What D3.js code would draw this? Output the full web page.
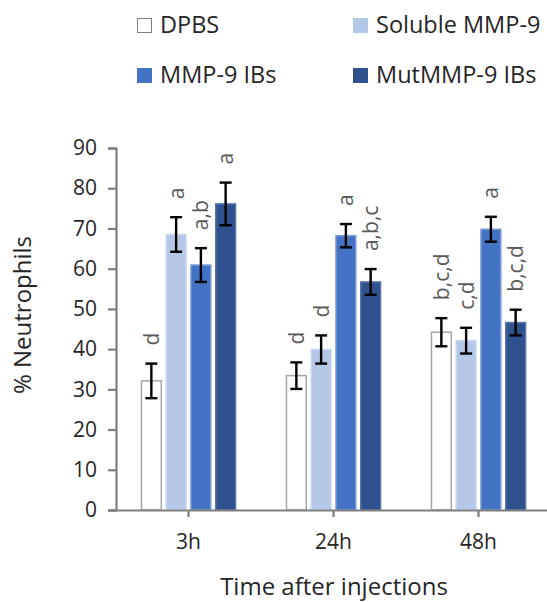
<!DOCTYPE html>
<html lang="en">
<head>
<meta charset="utf-8">
<title>% Neutrophils</title>
<script src="https://cdn.jsdelivr.net/npm/d3@7"></script>
<style>
  body { margin: 0; background: #fff; }
  text { font-family: "Open Sans", "Noto Sans", sans-serif; }
</style>
</head>
<body>
<div id="chart"></div>
<script>
// data
var times = ["3h", "24h", "48h"];
var groups = ["DPBS", "Soluble MMP-9", "MMP-9 IBs", "MutMMP-9 IBs"];
var colors = ["#ffffff", "#b4c7e7", "#4472c4", "#2f528f"];
var strokes = ["#a6a6a6", "#c9d7ef", "#7a9bd6", "#5873a8"];
// one row per time, one value per group
var means = [
  [32.1, 68.5, 60.9, 76.1],
  [33.4, 39.9, 68.2, 56.7],
  [44.2, 42.1, 69.8, 46.6]
];
var errs = [
  [4.3, 4.3, 4.2, 5.3],
  [3.3, 3.5, 2.9, 3.2],
  [3.5, 3.2, 3.1, 3.2]
];
var letters = [
  ["d", "a", "a,b", "a"],
  ["d", "d", "a", "a,b,c"],
  ["b,c,d", "c,d", "a", "b,c,d"]
];
var yTicks = [0, 10, 20, 30, 40, 50, 60, 70, 80, 90];

var w = 547, h = 602;
var svg = d3.select("#chart").append("svg")
  .attr("width", w).attr("height", h);

var x0 = d3.scaleBand().domain(times).range([116, 551]);
var x1 = d3.scaleBand().domain(groups).range([0, 104]).padding(0.2);
var y = d3.scaleLinear().domain([0, 90]).range([510, 148]);

var rows = [];
times.forEach(function(t, i) {
  groups.forEach(function(g, j) {
    rows.push({t: t, g: g, j: j, v: means[i][j], e: errs[i][j], lab: letters[i][j]});
  });
});

function bx(d) { return x0(d.t) + x0.bandwidth() / 2 - 52 + x1(d.g); }

// bars
svg.append("g").selectAll("rect")
  .data(rows).enter().append("rect")
  .attr("x", bx)
  .attr("y", function(d) { return y(d.v); })
  .attr("width", x1.bandwidth())
  .attr("height", function(d) { return y(0) - y(d.v); })
  .attr("fill", function(d) { return colors[d.j]; })
  .attr("stroke", function(d) { return strokes[d.j]; })
  .attr("stroke-width", 1.5);

// error bars
var eb = svg.append("g").attr("stroke", "#000").attr("stroke-width", 2.4);
rows.forEach(function(d) {
  var cx = bx(d) + x1.bandwidth() / 2;
  eb.append("line").attr("x1", cx).attr("x2", cx)
    .attr("y1", y(d.v + d.e)).attr("y2", y(d.v - d.e));
  eb.append("line").attr("x1", cx - 6).attr("x2", cx + 6)
    .attr("y1", y(d.v + d.e)).attr("y2", y(d.v + d.e));
  eb.append("line").attr("x1", cx - 6).attr("x2", cx + 6)
    .attr("y1", y(d.v - d.e)).attr("y2", y(d.v - d.e));
});

// significance letters
svg.append("g").selectAll("text")
  .data(rows).enter().append("text")
  .attr("transform", function(d) {
    return "translate(" + (bx(d) + x1.bandwidth() / 2) + "," + (y(d.v + d.e) - 18) + ") rotate(-90)";
  })
  .attr("dy", "0.36em")
  .attr("fill", "#595959")
  .style("font-size", "21px")
  .text(function(d) { return d.lab; });

// axes
var yAxis = svg.append("g").attr("transform", "translate(116,0)")
  .call(d3.axisLeft(y).tickValues(yTicks).tickSize(8).tickPadding(11));
var xAxis = svg.append("g").attr("transform", "translate(0,510)")
  .call(d3.axisBottom(x0).tickSize(7).tickPadding(17));
xAxis.select(".domain").attr("d", "M108,0.5H547");
[yAxis, xAxis].forEach(function(a) {
  a.selectAll(".domain, line").attr("stroke", "#7f7f7f").attr("stroke-width", 2.2);
  a.selectAll("text").attr("fill", "#262626").style("font-size", "21px")
    .style("font-family", "'Open Sans', 'Noto Sans', sans-serif");
});

// axis titles
svg.append("text")
  .attr("transform", "translate(31,315) rotate(-90)")
  .attr("text-anchor", "middle")
  .attr("fill", "#262626")
  .style("font-size", "24px")
  .text("% Neutrophils");
svg.append("text")
  .attr("x", 334).attr("y", 595)
  .attr("text-anchor", "middle")
  .attr("fill", "#262626")
  .style("font-size", "24px")
  .text("Time after injections");

// legend
var legPos = [[137, 18], [353, 18], [137, 68], [353, 68]];
var leg = svg.append("g").selectAll("g")
  .data(groups).enter().append("g")
  .attr("transform", function(d, i) { return "translate(" + legPos[i][0] + "," + legPos[i][1] + ")"; });
leg.append("rect")
  .attr("x", 0.5).attr("y", 0.5)
  .attr("width", 14).attr("height", 14)
  .attr("fill", function(d, i) { return colors[i]; })
  .attr("stroke", function(d, i) { return i === 0 ? "#7f7f7f" : colors[i]; });
leg.append("text")
  .attr("x", 23).attr("y", 15)
  .attr("fill", "#262626")
  .style("font-size", "23.5px")
  .text(function(d) { return d; });
</script>
</body>
</html>
